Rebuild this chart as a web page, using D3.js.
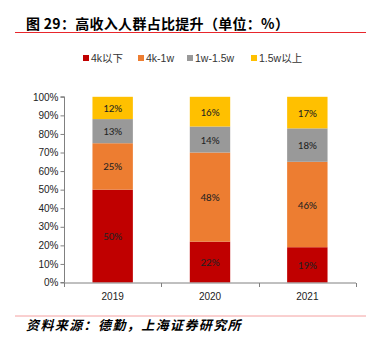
<!DOCTYPE html>
<html><head><meta charset="utf-8">
<script src="https://cdn.jsdelivr.net/npm/d3@7"></script>
<style>body{margin:0;background:#fff;}svg{display:block;}</style>
</head><body>
<svg id="c" width="367" height="337"></svg>
<script>
const categories = ["2019", "2020", "2021"];
const seriesNames = ["4k以下", "4k-1w", "1w-1.5w", "1.5w以上"];
const s4kBelow = [50, 22, 19];
const s4k1w = [25, 48, 46];
const s1w15w = [13, 14, 18];
const s15wAbove = [12, 16, 17];
const yTicks = [0, 10, 20, 30, 40, 50, 60, 70, 80, 90, 100];
const colors = ["#c00000", "#ed7d31", "#999999", "#ffc000"];

const svg = d3.select("#c");
const font = "Arial, 'Liberation Sans', 'Noto Sans CJK SC', sans-serif";
const cjk = "'Noto Sans CJK SC', sans-serif";

// Title
svg.append("text").attr("x", 26).attr("y", 29).attr("font-family", cjk)
  .attr("font-size", 14).attr("font-weight", "bold").attr("fill", "#000")
  .attr("letter-spacing", 0.3)
  .text("图 29：高收入人群占比提升（单位：%）");
svg.append("line").attr("x1", 15).attr("x2", 366).attr("y1", 32.5).attr("y2", 32.5)
  .attr("stroke", "#e8262c").attr("stroke-width", 1);

// Data table
const table = categories.map((c, i) => ({
  cat: c, a: s4kBelow[i], b: s4k1w[i], c2: s1w15w[i], d: s15wAbove[i]
}));
const keys = ["a", "b", "c2", "d"];
const stack = d3.stack().keys(keys)(table);

const x = d3.scaleBand().domain(categories).range([64, 356]).paddingInner(0.585).paddingOuter(0.2925);
const y = d3.scaleLinear().domain([0, 100]).range([282.5, 96.8]);

// Bars
const g = svg.append("g");
stack.forEach((layer, li) => {
  g.selectAll(null).data(layer).enter().append("rect")
    .attr("x", d => x(d.data.cat))
    .attr("width", x.bandwidth())
    .attr("y", d => y(d[1]))
    .attr("height", d => y(d[0]) - y(d[1]))
    .attr("fill", colors[li]);
  g.selectAll(null).data(layer).enter().append("text")
    .attr("x", d => x(d.data.cat) + x.bandwidth() / 2)
    .attr("y", d => (y(d[0]) + y(d[1])) / 2 + 4)
    .attr("text-anchor", "middle")
    .attr("font-family", "Calibri, Carlito, 'Liberation Sans', Arial, sans-serif")
    .attr("font-size", 11).attr("fill", "#222")
    .text(d => (d[1] - d[0]) + "%");
});

// Y axis
const yAxis = d3.axisLeft(y).tickValues(yTicks).tickSize(4).tickFormat(d => d + "%");
const ya = svg.append("g").attr("transform", "translate(64.5,0)").call(yAxis);
ya.select(".domain").attr("stroke", "#808080").attr("d", `M-4,${y(100)}H0V${y(0)}H-4`);
ya.selectAll(".tick line").attr("stroke", "#808080");
ya.selectAll(".tick text").attr("font-family", font).attr("font-size", 10).attr("fill", "#222").attr("x", -6);

// X axis
const xa = svg.append("g").attr("transform", `translate(0,${y(0) + 0.5})`);
xa.append("line").attr("x1", 64).attr("x2", 356).attr("y1", 0).attr("y2", 0).attr("stroke", "#808080");
const bounds = [0, 1, 2, 3].map(i => 64 + i * (292 / 3));
xa.selectAll(null).data(bounds).enter().append("line")
  .attr("x1", d => Math.round(d) + 0.5).attr("x2", d => Math.round(d) + 0.5)
  .attr("y1", 0).attr("y2", 4).attr("stroke", "#808080");
xa.selectAll(null).data(categories).enter().append("text")
  .attr("x", d => x(d) + x.bandwidth() / 2).attr("y", 17)
  .attr("text-anchor", "middle").attr("font-family", font).attr("font-size", 10).attr("fill", "#222")
  .text(d => d);

// Legend
const legendX = [83, 138, 187, 251];
const lg = svg.append("g");
seriesNames.forEach((n, i) => {
  lg.append("rect").attr("x", legendX[i]).attr("y", 55).attr("width", 6).attr("height", 6).attr("fill", colors[i]);
  lg.append("text").attr("x", legendX[i] + 8).attr("y", 62).attr("font-family", font)
    .attr("font-size", 10.5).attr("fill", "#333").text(n);
});

// Footer
svg.append("line").attr("x1", 15).attr("x2", 366).attr("y1", 316).attr("y2", 316)
  .attr("stroke", "#f4a0a0").attr("stroke-width", 1);
svg.append("text").attr("x", 26).attr("y", 330).attr("font-family", cjk)
  .attr("font-size", 13).attr("font-style", "italic").attr("font-weight", "bold").attr("fill", "#000")
  .attr("letter-spacing", 1.4)
  .text("资料来源：德勤，上海证券研究所");
</script>
</body></html>
